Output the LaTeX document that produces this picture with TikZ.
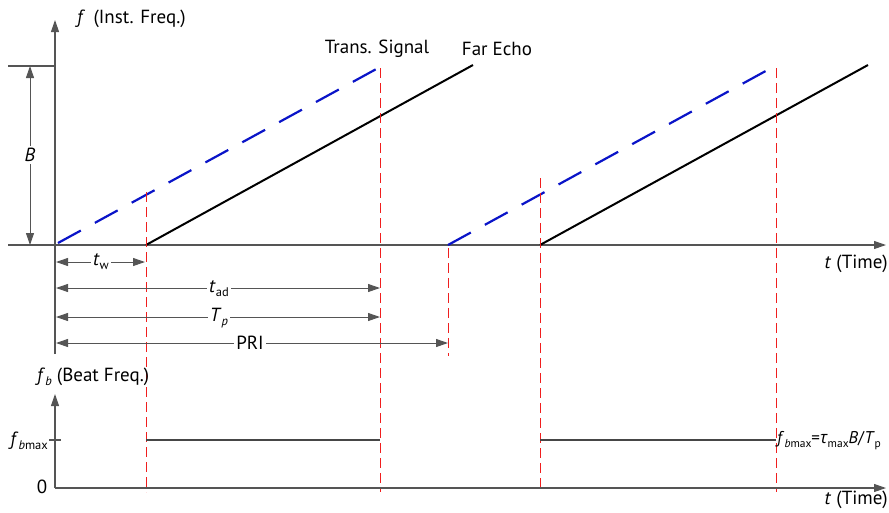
\documentclass[tikz,border=0pt]{standalone}
\usepackage{fontspec}
\setmainfont{PT Sans}
\newfontfamily\grkfont{Open Sans}
\usetikzlibrary{arrows.meta}
\definecolor{axisgray}{RGB}{85,85,85}
\definecolor{txblue}{RGB}{10,20,200}
\definecolor{gatered}{RGB}{240,30,30}
\definecolor{beatgray}{RGB}{70,70,70}
\newcommand{\sbs}[1]{\raisebox{-0.45ex}{\fontsize{12.5}{13}\selectfont #1}}
\newcommand{\sbsm}[1]{\raisebox{-0.45ex}{\fontsize{11.5}{12}\selectfont #1}}
\tikzset{
  axis/.style={draw=axisgray, line width=1.1pt},
  axarrow/.style={axis, -{Triangle[length=12pt,width=8pt]}},
  dimarrow/.style={axis, line width=1pt, {Triangle[length=12pt,width=8pt]}-{Triangle[length=12pt,width=8pt]}},
  txsig/.style={draw=txblue, line width=2.2pt, dash pattern=on 26pt off 16pt},
  echo/.style={draw=black, line width=2pt},
  gate/.style={draw=gatered, line width=1pt, dash pattern=on 10pt off 5pt},
  beat/.style={draw=beatgray, line width=2pt},
  lbl/.style={font=\fontsize{19}{22}\selectfont, inner sep=1pt},
  dimlbl/.style={lbl, fill=white, inner sep=2pt}
}
\begin{document}
\begin{tikzpicture}[x=1pt,y=-1pt]
\useasboundingbox (0,0) rectangle (889,512);

% ---- instantaneous frequency axes ----
\coordinate (o1) at (55,245);
\coordinate (fTop) at (55,20);
\coordinate (tEnd) at (886,245);
\coordinate (tStart) at (8,245);
\coordinate (fLow) at (55,354);
\draw[axarrow] (fLow) -- (fTop);
\draw[axarrow] (tStart) -- (tEnd);
\coordinate (bL) at (8,66);
\coordinate (bR) at (55,66);
\draw[axis] (bL) -- (bR);
\coordinate (bArrTop) at (30,66);
\coordinate (bArrBot) at (30,245);
\draw[dimarrow] (bArrBot) -- (bArrTop);
\node[lbl, fill=white, inner sep=2pt] (Blbl) at (30,155) {\textit{B}};
\node[lbl, anchor=west] (fLbl) at (76,19) {\textit{f}\, (Inst. Freq.)};
\node[lbl, anchor=east] (tLbl) at (889,264) {\textit{t} (Time)};

% ---- chirps ----
\coordinate (s1a) at (58,243);
\coordinate (s1b) at (380,67);
\coordinate (s2a) at (448,245);
\coordinate (s2b) at (773,67);
\draw[txsig] (s1a) -- (s1b);
\draw[txsig] (s2a) -- (s2b);
\coordinate (e1a) at (146,245);
\coordinate (e1b) at (473,65);
\coordinate (e2a) at (540,245);
\coordinate (e2b) at (868,65);
\draw[echo] (e1a) -- (e1b);
\draw[echo] (e2a) -- (e2b);
\node[lbl] (tsLbl) at (377,49) {Trans. Signal};
\node[lbl] (feLbl) at (497,49) {Far Echo};

% ---- gate markers ----
\coordinate (g1t) at (146,192);
\coordinate (g1b) at (146,492);
\coordinate (g2t) at (380,68);
\coordinate (g2b) at (380,492);
\coordinate (g3t) at (448,248);
\coordinate (g3b) at (448,356);
\coordinate (g4t) at (540,178);
\coordinate (g4b) at (540,492);
\coordinate (g5t) at (776,68);
\coordinate (g5b) at (776,492);
\draw[gate] (g1t) -- (g1b);
\draw[gate] (g2t) -- (g2b);
\draw[gate] (g3t) -- (g3b);
\draw[gate] (g4t) -- (g4b);
\draw[gate] (g5t) -- (g5b);

% ---- time spans ----
\coordinate (tw0) at (56,262);
\coordinate (tw1) at (145,262);
\coordinate (ta0) at (56,288);
\coordinate (ta1) at (380,288);
\coordinate (tp0) at (56,317);
\coordinate (tp1) at (380,317);
\coordinate (pr0) at (56,343);
\coordinate (pr1) at (448,343);
\draw[dimarrow] (tw0) -- (tw1);
\draw[dimarrow] (ta0) -- (ta1);
\draw[dimarrow] (tp0) -- (tp1);
\draw[dimarrow] (pr0) -- (pr1);
\node[dimlbl] (twLbl) at (101,262) {\textit{t}\sbs{w}};
\node[dimlbl] (taLbl) at (219,289) {\textit{t}\sbs{ad}};
\node[dimlbl] (tpLbl) at (219,318) {\textit{T}\sbs{\textit{p}}};
\node[dimlbl] (prLbl) at (250,343) {PRI};

% ---- beat frequency axes ----
\coordinate (o2) at (55,488);
\coordinate (fbTop) at (55,394);
\coordinate (t2End) at (886,488);
\draw[axarrow] (o2) -- (fbTop);
\draw[axarrow] (o2) -- (t2End);
\coordinate (tk0) at (49,440);
\coordinate (tk1) at (61,440);
\draw[axis] (tk0) -- (tk1);
\node[lbl, anchor=west] (fbLbl) at (36,377) {\textit{f}\sbs{\textit{b}} (Beat Freq.)};
\node[lbl, anchor=east] (fbmLbl) at (49,441) {\textit{f}\sbs{\textit{b}max}};
\node[lbl] (zLbl) at (42,487) {0};
\node[lbl, anchor=east] (t2Lbl) at (889,500) {\textit{t} (Time)};

% ---- beat frequency levels ----
\coordinate (b1a) at (146,440);
\coordinate (b1b) at (380,440);
\coordinate (b2a) at (540,440);
\coordinate (b2b) at (776,440);
\draw[beat] (b1a) -- (b1b);
\draw[beat] (b2a) -- (b2b);
\node[anchor=west, inner sep=0pt, font=\fontsize{17}{20}\selectfont] (eqLbl) at (777,441) {\textit{f}\sbsm{\textit{b}max}={\grkfont\textit{τ}}\sbsm{max}\textit{B}/\textit{T}\sbsm{p}};
\end{tikzpicture}
\end{document}
